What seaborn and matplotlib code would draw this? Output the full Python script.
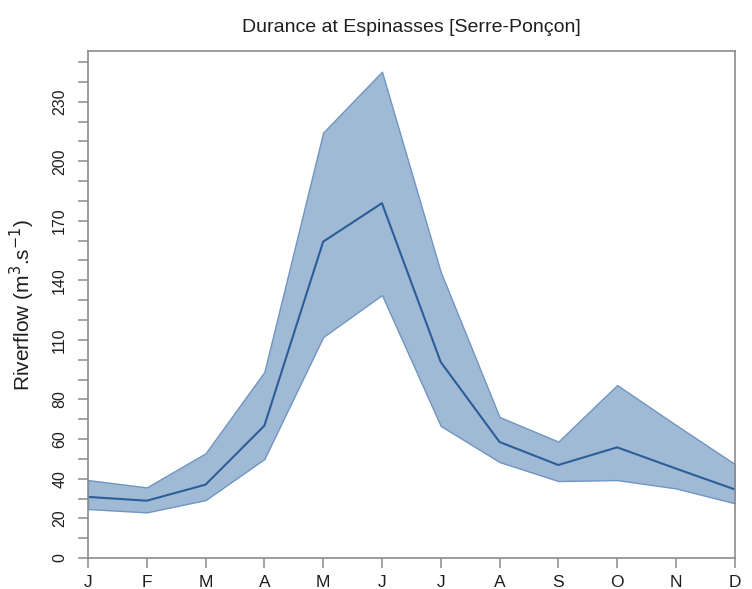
import numpy as np
import pandas as pd
import matplotlib
matplotlib.use("Agg")
import matplotlib.pyplot as plt
import seaborn as sns

months = ["J", "F", "M", "A", "M", "J", "J", "A", "S", "O", "N", "D"]
flow_mean = [30.8, 28.9, 37.0, 66.7, 159.5, 178.9, 98.8, 58.5, 46.9, 55.8, 45.1, 34.6]
flow_high = [39.3, 35.6, 52.8, 93.8, 214.5, 245.2, 144.2, 71.1, 58.7, 87.2, 67.1, 47.4]
flow_low = [24.7, 23.0, 29.2, 49.9, 111.4, 132.6, 66.6, 48.4, 38.8, 39.3, 35.1, 27.6]
ytick_labels = [0, 20, 40, 60, 80, 110, 140, 170, 200, 230]

df = pd.DataFrame({
    "month": np.arange(len(months)),
    "mean": flow_mean,
    "high": flow_high,
    "low": flow_low,
})

sns.set_theme(style="white")
plt.rcParams["font.family"] = ["Liberation Sans", "DejaVu Sans"]
text_color = "#1e1e1e"

fig = plt.figure(figsize=(7.52, 5.89), dpi=100)
ax = fig.add_axes([0.117, 0.0526, 0.86, 0.8604])

# min-max envelope and monthly mean
ax.fill_between(df["month"], df["low"], df["high"], facecolor="#a0bad6",
                edgecolor="#6f95c0", linewidth=1.0, zorder=1)
sns.lineplot(data=df, x="month", y="mean", ax=ax, color="#2c5d98",
             linewidth=1.5, zorder=2)

ax.set_xlim(0, 11)
ax.set_ylim(0, 255.5)

ax.set_xticks(df["month"])
ax.set_xticklabels(months)
yt = np.arange(0, 251, 10)
ax.set_yticks(yt)
ax.set_yticklabels([str(v) if v in ytick_labels else "" for v in yt],
                   rotation=90, va="center")

for side in ["left", "right", "top", "bottom"]:
    ax.spines[side].set_color("#8c8c8c")
    ax.spines[side].set_linewidth(1.2)

ax.tick_params(axis="y", direction="out", length=7, width=1.1, color="#8c8c8c",
               labelsize=11.5, pad=8, left=True, labelcolor=text_color)
ax.tick_params(axis="x", direction="out", length=7, width=1.1, color="#8c8c8c",
               labelsize=12.5, pad=5, bottom=True, labelcolor=text_color)

ax.set_xlabel("")
ax.set_ylabel("Riverflow (m$^3$.s$^{-1}$)", fontsize=15, labelpad=11,
              color=text_color)
ax.set_title("Durance at Espinasses [Serre-Ponçon]", fontsize=14, pad=14,
             color=text_color)

fig.savefig("out.png", dpi=100)
